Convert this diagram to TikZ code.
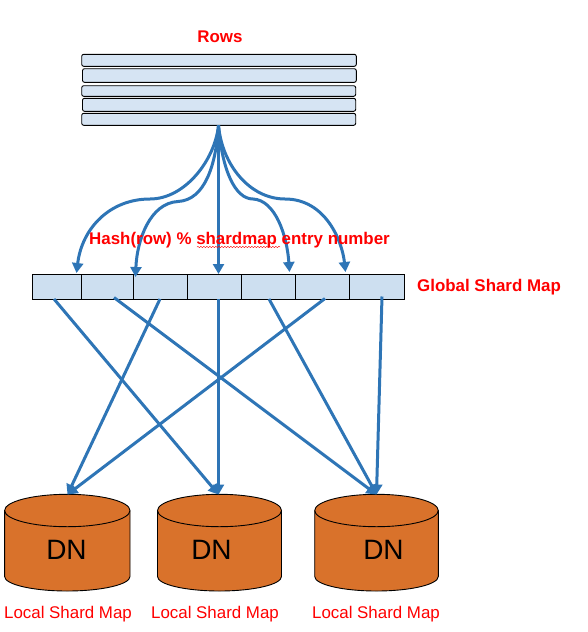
\documentclass[tikz,border=0pt]{standalone}
\usepackage{fontspec}
\setmainfont{Liberation Sans}
\usetikzlibrary{shapes.geometric,arrows.meta,decorations.pathmorphing}
\definecolor{rowfill}{HTML}{D6E4F3}
\definecolor{cellfill}{HTML}{CDDFF0}
\definecolor{linkblue}{HTML}{2E75B6}
\definecolor{dnfill}{HTML}{D9722B}
\newcommand{\dncyl}[3]{% name, centre x, half width
  \node[inner sep=0pt,outer sep=0pt,minimum width=2*#3 pt,minimum height=96.7pt] (#1) at (#2,542.6) {};
  \draw[black,line width=0.9pt,fill=dnfill]
    (#2-#3,510.5) -- (#2-#3,576.5)
    .. controls (#2-#3,584.5) and (#2-0.55*#3,591) .. (#2,591)
    .. controls (#2+0.55*#3,591) and (#2+#3,584.5) .. (#2+#3,576.5)
    -- (#2+#3,510.5)
    .. controls (#2+#3,501.6) and (#2+0.55*#3,494.3) .. (#2,494.3)
    .. controls (#2-0.55*#3,494.3) and (#2-#3,501.6) .. (#2-#3,510.5) -- cycle;
  \draw[black,line width=0.9pt]
    (#2-#3,510.5)
    .. controls (#2-#3,519.4) and (#2-0.55*#3,526.7) .. (#2,526.7)
    .. controls (#2+0.55*#3,526.7) and (#2+#3,519.4) .. (#2+#3,510.5);
}
\tikzset{
  x=1pt,y=-1pt,
  rowbox/.style={draw=black,line width=0.9pt,fill=rowfill,rounded corners=2pt,inner sep=0pt,outer sep=0pt},
  cellbox/.style={draw=black,line width=0.9pt,fill=cellfill,inner sep=0pt,outer sep=0pt,minimum height=24.7pt},
  link/.style={draw=linkblue,line width=3pt,-{Triangle[length=10pt,width=11pt]}},
  boldlabel/.style={text=red,font=\fontsize{16.9}{20}\selectfont\bfseries,inner sep=0pt},
  maplabel/.style={text=red,font=\fontsize{16.9}{20}\selectfont,inner sep=0pt},
  dnlabel/.style={text=black,font=\fontsize{28}{30}\selectfont,inner sep=0pt},
}
\begin{document}
\begin{tikzpicture}
\useasboundingbox (0,0) rectangle (588,632);
% rows
\node[rowbox,minimum width=274.6pt,minimum height=12pt] (r1) at (219,60.3) {};
\node[rowbox,minimum width=273.8pt,minimum height=13.6pt] (r2) at (219.4,75.5) {};
\node[rowbox,minimum width=274pt,minimum height=10.6pt] (r3) at (218.7,91) {};
\node[rowbox,minimum width=273.2pt,minimum height=13pt] (r4) at (219.1,104.8) {};
\node[rowbox,minimum width=274pt,minimum height=12pt] (r5) at (218.7,119.3) {};
\node[boldlabel] (rows) at (220,37) {Rows};
% shard map cells
\node[cellbox,minimum width=49.4pt] (c1) at (57,286.7) {};
\node[cellbox,minimum width=51.6pt] (c2) at (107.5,286.7) {};
\node[cellbox,minimum width=54pt] (c3) at (160.3,286.7) {};
\node[cellbox,minimum width=54pt] (c4) at (214.3,286.7) {};
\node[cellbox,minimum width=54.4pt] (c5) at (268.5,286.7) {};
\node[cellbox,minimum width=54pt] (c6) at (322.7,286.7) {};
\node[cellbox,minimum width=54.6pt] (c7) at (377,286.7) {};
\node[boldlabel,anchor=west] (gsm) at (417,287.5) {Global Shard Map};
% cylinders
\dncyl{d1}{67.3}{62.7}
\dncyl{d2}{219.5}{62}
\dncyl{d3}{376.5}{61.8}
\node[dnlabel] (t1) at (66.5,549.5) {DN};
\node[dnlabel] (t2) at (211.5,549.5) {DN};
\node[dnlabel] (t3) at (383.5,549.5) {DN};
\node[maplabel] (l1) at (68,614) {Local Shard Map};
\node[maplabel] (l2) at (215,614) {Local Shard Map};
\node[maplabel] (l3) at (376,614) {Local Shard Map};
% anchor points of connectors
\coordinate (hub) at (218.5,125.3);
\coordinate (in1) at (76.5,273);
\coordinate (in2) at (135.5,277);
\coordinate (in3) at (218.5,274);
\coordinate (in4) at (289.5,272);
\coordinate (in5) at (345.5,272);
\coordinate (o1) at (54,299);
\coordinate (o2) at (114,297.5);
\coordinate (o3) at (160,299);
\coordinate (o4) at (218.5,299);
\coordinate (o5) at (269,299);
\coordinate (o6) at (325,298.5);
\coordinate (o7) at (382,296.5);
\coordinate (e1) at (67.5,494.5);
\coordinate (e2) at (218.5,494.5);
\coordinate (e3) at (376.5,494.5);
% curved connectors
\draw[link] (hub) .. controls (215,160) and (185,199) .. (150,199) .. controls (110,199) and (82,228) .. (in1);
\draw[link] (hub) .. controls (216,165) and (205,200) .. (178,201.5) .. controls (150,203) and (137,240) .. (in2);
\draw[link] (hub) -- (in3);
\draw[link] (hub) .. controls (222,170) and (235,199) .. (253,199) .. controls (275,200) and (287,235) .. (in4);
\draw[link] (hub) .. controls (222,165) and (250,199) .. (285,199) .. controls (325,199) and (342,240) .. (in5);
% straight connectors
\draw[link] (o1) -- (e2);
\draw[link] (o2) -- (e3);
\draw[link] (o3) -- (e1);
\draw[link] (o4) -- (e2);
\draw[link] (o5) -- (e3);
\draw[link] (o6) -- (e1);
\draw[link] (o7) -- (e3);
% caption over the connectors
\node[boldlabel] (hash) at (239.5,240.5) {Hash(row) \% shardmap entry number};
\coordinate (w1) at (197,247);
\coordinate (w2) at (280,247);
\draw[red,line width=0.4pt,decorate,decoration={snake,amplitude=0.7pt,segment length=3pt}] (w1) -- (w2);
\end{tikzpicture}
\end{document}
